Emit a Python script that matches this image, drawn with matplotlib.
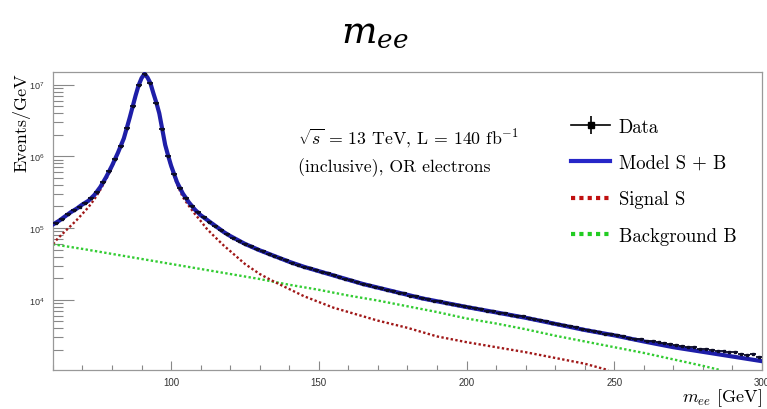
import numpy as np
import matplotlib.pyplot as plt
from matplotlib.lines import Line2D
from matplotlib.legend_handler import HandlerTuple
from matplotlib.ticker import LogLocator, MultipleLocator, NullFormatter

plt.rcParams['mathtext.fontset'] = 'cm'
plt.rcParams['font.family'] = ['Liberation Sans', 'DejaVu Sans']
plt.rcParams['axes.unicode_minus'] = False

# fit model S + B, log10(events/GeV)
model_x = [60, 62, 64, 66, 68, 70, 72, 74, 76, 78, 80, 82, 84, 86, 88, 89, 90, 91,
           92, 93, 94, 95, 96, 97, 98, 99, 100, 102, 104, 106, 108, 110, 112, 114,
           116, 118, 120, 125, 130, 135, 140, 145, 150, 155, 160, 165, 170, 175,
           180, 185, 190, 195, 200, 210, 220, 230, 240, 250, 260, 270, 280, 290, 300]
model_log = [5.05, 5.10, 5.16, 5.22, 5.27, 5.33, 5.38, 5.46, 5.57, 5.71, 5.87, 6.05,
             6.25, 6.54, 6.85, 6.99, 7.09, 7.15, 7.10, 7.02, 6.88, 6.75, 6.60, 6.38,
             6.16, 6.01, 5.87, 5.64, 5.48, 5.36, 5.26, 5.18, 5.12, 5.06, 5.00, 4.94,
             4.89, 4.78, 4.69, 4.61, 4.53, 4.46, 4.40, 4.34, 4.28, 4.22, 4.17, 4.12,
             4.07, 4.02, 3.98, 3.94, 3.90, 3.825, 3.75, 3.665, 3.58, 3.505, 3.42,
             3.34, 3.275, 3.21, 3.145]

# signal component S
sig_x = [60, 62, 64, 66, 68, 70, 72, 74, 76, 78, 80, 82, 84, 86, 88, 89, 90, 91,
         92, 93, 94, 95, 96, 97, 98, 99, 100, 102, 104, 106, 108, 110, 112, 114,
         116, 118, 120, 125, 130, 135, 140, 145, 150, 155, 160, 165, 170, 175,
         180, 190, 200, 210, 220, 230, 240, 248]
sig_log = [4.78, 4.87, 4.95, 5.03, 5.11, 5.20, 5.29, 5.40, 5.53, 5.68, 5.85, 6.04,
           6.24, 6.53, 6.84, 6.98, 7.09, 7.14, 7.09, 7.01, 6.87, 6.74, 6.59, 6.37,
           6.15, 6.00, 5.85, 5.61, 5.43, 5.31, 5.20, 5.10, 4.995, 4.91, 4.83, 4.75,
           4.68, 4.50, 4.36, 4.25, 4.15, 4.05, 3.97, 3.89, 3.83, 3.77, 3.71, 3.66,
           3.61, 3.49, 3.41, 3.34, 3.27, 3.19, 3.11, 3.02]

# background component B
bkg_x = [60, 70, 80, 90, 100, 110, 120, 130, 140, 150, 160, 170, 180, 190, 200,
         210, 220, 230, 240, 250, 260, 270, 280, 286]
bkg_log = [4.775, 4.71, 4.64, 4.57, 4.50, 4.43, 4.36, 4.29, 4.21, 4.14, 4.06, 3.99,
           3.91, 3.83, 3.74, 3.67, 3.59, 3.50, 3.42, 3.34, 3.26, 3.17, 3.08, 3.02]

# data, 2 GeV bins (bin centres 61 ... 299)
data_x = np.arange(61, 300, 2)
data_log = [5.07, 5.13, 5.19, 5.25, 5.30, 5.35, 5.42, 5.51, 5.64, 5.79, 5.96, 6.15,
            6.39, 6.70, 6.99, 7.15, 7.02, 6.75, 6.38, 6.01, 5.75, 5.56, 5.42, 5.31,
            5.22, 5.15, 5.09, 5.03, 4.97, 4.92, 4.86, 4.82, 4.78, 4.75, 4.71, 4.68,
            4.64, 4.61, 4.58, 4.55, 4.52, 4.49, 4.46, 4.44, 4.41, 4.39, 4.37, 4.34,
            4.32, 4.29, 4.27, 4.25, 4.22, 4.20, 4.18, 4.16, 4.14, 4.12, 4.10, 4.09,
            4.06, 4.05, 4.02, 4.01, 3.99, 3.98, 3.96, 3.94, 3.93, 3.92, 3.90, 3.88,
            3.87, 3.85, 3.84, 3.82, 3.81, 3.79, 3.78, 3.77, 3.75, 3.73, 3.72, 3.70,
            3.68, 3.67, 3.65, 3.63, 3.62, 3.60, 3.58, 3.57, 3.55, 3.53, 3.52, 3.51,
            3.49, 3.47, 3.46, 3.45, 3.42, 3.42, 3.41, 3.40, 3.38, 3.37, 3.36, 3.34,
            3.34, 3.32, 3.31, 3.30, 3.29, 3.28, 3.27, 3.27, 3.24, 3.23, 3.24, 3.21]

model_y = 10 ** np.array(model_log)
sig_y = 10 ** np.array(sig_log)
bkg_y = 10 ** np.array(bkg_log)
data_y = 10 ** np.array(data_log)

fig = plt.figure(figsize=(7.67, 4.10), dpi=100)
ax = fig.add_axes([0.069, 0.095, 0.9244, 0.727])

ax.plot(bkg_x, bkg_y, color='#33cc33', lw=1.7, ls=(0, (1, 1)), zorder=2)
ax.plot(sig_x, sig_y, color='#a01818', lw=1.7, ls=(0, (1, 1)), zorder=2)
ax.plot(model_x, model_y, color='#1e1ea8', lw=3, zorder=3)
ax.errorbar(data_x, data_y, xerr=1.0, fmt='s', color='#0c0c28', ms=2.1,
            elinewidth=1.3, capsize=0, zorder=4)

ax.set_yscale('log')
ax.set_xlim(60, 300)
ax.set_ylim(1050, 1.5e7)

ax.xaxis.set_major_locator(MultipleLocator(50))
ax.xaxis.set_minor_locator(MultipleLocator(10))
ax.yaxis.set_major_locator(LogLocator(base=10, numticks=10))
ax.yaxis.set_minor_locator(LogLocator(base=10, subs=np.arange(2, 10), numticks=10))
ax.yaxis.set_minor_formatter(NullFormatter())

ax.tick_params(axis='x', which='major', direction='in', length=6.5, width=0.8,
               color='#888888', labelsize=7, labelcolor='#333333', pad=5)
ax.tick_params(axis='x', which='minor', direction='in', length=3.5, width=0.8,
               color='#888888')
ax.tick_params(axis='y', which='major', direction='in', length=15, width=0.8,
               color='#888888', labelsize=6.5, labelcolor='#333333', pad=6)
ax.tick_params(axis='y', which='minor', direction='in', length=7.5, width=0.8,
               color='#888888')
for s in ax.spines.values():
    s.set_color('#999999')
    s.set_linewidth(0.9)

ax.set_ylabel('Events/GeV', fontname='cmr10', fontsize=13)
ax.yaxis.set_label_coords(-0.032, 1.0)
ax.yaxis.label.set_horizontalalignment('right')

ax.text(1.0, -0.09, r'$m_{ee}$ [GeV]', transform=ax.transAxes, ha='right',
        va='center', fontname='cmr10', fontsize=13)

ax.text(0.345, 0.782, r'$\sqrt{s}$ = 13 TeV, L = 140 fb$^{-1}$', transform=ax.transAxes,
        ha='left', va='center', fontname='cmr10', fontsize=12.8)
ax.text(0.345, 0.681, '(inclusive), OR electrons', transform=ax.transAxes,
        ha='left', va='center', fontname='cmr10', fontsize=12.8)

h_data = (Line2D([], [], color='black', marker='s', ms=5, lw=1.2),
          Line2D([], [], color='black', marker='|', ms=13, mew=1.2, ls='none'))
h_model = Line2D([], [], color='#2626c8', lw=3)
h_sig = Line2D([], [], color='#c01010', lw=3, ls=(0, (1, 1)))
h_bkg = Line2D([], [], color='#22cc22', lw=3, ls=(0, (1, 1)))
ax.legend([h_data, h_model, h_sig, h_bkg],
          ['Data', 'Model S + B', 'Signal S', 'Background B'],
          handler_map={tuple: HandlerTuple(ndivide=1, pad=0)},
          loc='upper left', bbox_to_anchor=(0.72, 0.872), frameon=False,
          prop={'family': 'cmr10', 'size': 13.5}, handlelength=2.1,
          handletextpad=0.45, labelspacing=0.98, borderaxespad=0)

fig.text(0.489, 0.922, r'$m_{ee}$', fontsize=27, math_fontfamily='dejavuserif',
         ha='center', va='center')

fig.savefig('out.png', dpi=100)
